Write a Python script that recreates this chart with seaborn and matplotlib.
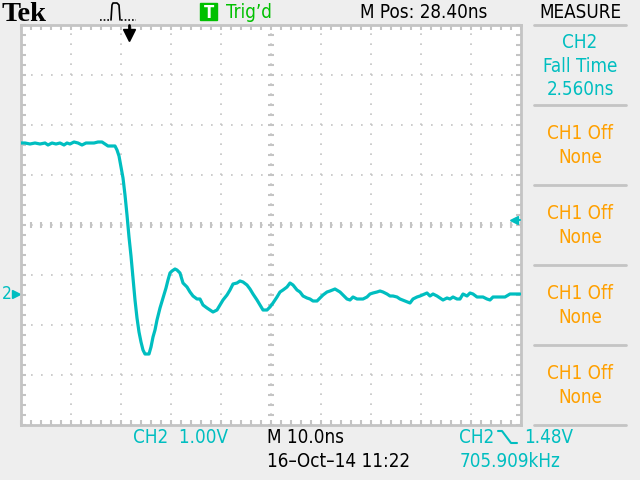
import matplotlib
matplotlib.use("Agg")
import matplotlib.pyplot as plt
import matplotlib.transforms as mtransforms
from matplotlib.lines import Line2D
from matplotlib.patches import Rectangle
import numpy as np
import pandas as pd
import seaborn as sns

# scope settings (from the screen read-out)
ns_per_div = 10.0
volts_per_div = 1.00
m_pos_ns = 28.40
ch2_centre_v = 1.38      # CH2 volts at the middle of the screen
trigger_level_v = 1.48
trigger_time_ns = 0.0

# CH2 trace
time_ns = [-21.6, -20.8, -19.8, -18.8, -17.8, -16.8, -16.2, -15.4, -14.6, -13.8,
           -13.0, -12.4, -11.8, -11.0, -10.2, -9.4, -8.6, -7.8, -7.0, -6.2,
           -5.4, -4.8, -4.2, -3.4, -2.8, -2.4, -2.0, -1.6, -1.2, -0.8,
           -0.4, 0.0, 0.4, 0.8, 1.2, 1.6, 2.0, 2.4, 2.8, 3.2,
           4.0, 4.4, 4.8, 5.2, 5.6, 6.2, 6.8, 7.4, 7.8, 8.2,
           8.6, 9.2, 9.6, 10.2, 10.8, 11.6, 12.2, 12.8, 13.6, 14.2,
           14.8, 15.6, 16.2, 16.8, 17.6, 18.2, 18.8, 19.6, 20.2, 20.8,
           21.6, 22.2, 22.8, 23.6, 24.2, 24.8, 25.6, 26.2, 26.8, 27.6,
           28.2, 28.8, 29.6, 30.2, 30.8, 31.6, 32.2, 32.8, 33.6, 34.2,
           34.8, 35.6, 36.2, 36.8, 37.6, 38.2, 38.8, 39.6, 40.2, 41.2,
           42.2, 42.8, 43.6, 44.2, 44.8, 45.6, 46.8, 47.6, 48.2, 48.8,
           49.6, 50.2, 50.8, 51.6, 52.2, 52.8, 53.6, 54.2, 55.2, 56.2,
           56.8, 57.6, 58.2, 59.6, 60.2, 60.8, 61.6, 62.2, 62.8, 63.6,
           64.2, 64.8, 65.6, 66.2, 66.8, 67.6, 68.2, 68.8, 69.6, 70.8,
           71.6, 72.2, 72.8, 74.2, 75.2, 76.2, 78.2]
ch2_volts = [3.02, 3.02, 3.00, 3.02, 3.00, 3.02,
             2.98, 3.02, 3.00, 3.02, 2.98, 3.02,
             3.00, 3.04, 3.02, 2.98, 3.02, 3.02,
             3.02, 3.04, 3.04, 3.00, 2.96, 2.96,
             2.96, 2.88, 2.76, 2.54, 2.32, 1.98,
             1.58, 1.14, 0.76, 0.32, -0.12, -0.48,
             -0.76, -0.96, -1.12, -1.20, -1.20, -1.06,
             -0.86, -0.72, -0.52, -0.28, -0.08, 0.12,
             0.28, 0.42, 0.46, 0.50, 0.48, 0.42,
             0.22, 0.14, 0.04, -0.04, -0.10, -0.10,
             -0.22, -0.28, -0.32, -0.36, -0.32, -0.22,
             -0.12, -0.02, 0.08, 0.20, 0.22, 0.26,
             0.24, 0.18, 0.10, 0.00, -0.12, -0.22,
             -0.32, -0.32, -0.26, -0.18, -0.06, 0.04,
             0.08, 0.14, 0.22, 0.18, 0.08, 0.04,
             -0.04, -0.08, -0.10, -0.14, -0.14, -0.08,
             -0.02, 0.04, 0.06, 0.10, 0.04, -0.02,
             -0.10, -0.12, -0.06, -0.10, -0.10, -0.06,
             0.00, 0.02, 0.04, 0.06, 0.04, 0.00,
             -0.04, -0.04, -0.06, -0.10, -0.14, -0.18,
             -0.10, -0.06, -0.04, 0.02, -0.04, 0.00,
             -0.04, -0.08, -0.12, -0.08, -0.10, -0.06,
             -0.10, -0.10, 0.00, -0.04, 0.02, 0.00,
             -0.06, -0.06, -0.10, -0.12, -0.06, -0.06,
             -0.06, 0.00, 0.00]

# side menu texts
measure_box = ["CH2", "Fall Time", "2.560ns"]
off_boxes = [["CH1 Off", "None"]] * 4

TEAL = "#00BEC0"
ORANGE = "#FFA000"
GREEN = "#00C000"
GRID = "#C4C4C4"
BG = "#EEEEEE"

sns.set_style("white")
plt.rcParams["font.family"] = ["DejaVu Sans"]
plt.rcParams["font.stretch"] = "condensed"
plt.rcParams["lines.scale_dashes"] = True

W, H = 640, 480
fig = plt.figure(figsize=(W / 100, H / 100), dpi=100, facecolor=BG)


def fx(x):
    return x / W


def fy(y):
    return 1 - y / H


def label(x, y, s, color="black", size=13.5, ha="left", **kw):
    fig.text(fx(x), fy(y), s, color=color, fontsize=size, ha=ha, va="baseline", **kw)


# graticule area: 10 x 8 divisions of 50 px
ax = fig.add_axes([fx(21), 1 - 425 / H, 500 / W, 400 / H])
ax.set_facecolor("white")

df = pd.DataFrame({"time_ns": time_ns, "ch2_volts": ch2_volts})
sns.lineplot(data=df, x="time_ns", y="ch2_volts", color=TEAL, linewidth=2.3,
             estimator=None, sort=False, ax=ax, zorder=5)

t0 = m_pos_ns - 5 * ns_per_div
t1 = m_pos_ns + 5 * ns_per_div
v0 = ch2_centre_v - 4 * volts_per_div
v1 = ch2_centre_v + 4 * volts_per_div
ax.set_xlim(t0, t1)
ax.set_ylim(v0, v1)
ax.set_xlabel("")
ax.set_ylabel("")

xmaj = t0 + ns_per_div * np.arange(11)
ymaj = v0 + volts_per_div * np.arange(9)
xmin = t0 + ns_per_div / 5 * np.arange(51)
ymin = v0 + volts_per_div / 5 * np.arange(41)
ax.set_xticks(xmaj)
ax.set_yticks(ymaj)
ax.set_xticks(xmin, minor=True)
ax.set_yticks(ymin, minor=True)
ax.tick_params(which="both", direction="in", length=3.5, width=1.5, color=GRID,
               top=True, right=True, bottom=True, left=True,
               labelbottom=False, labelleft=False)
ax.grid(which="major", color=GRID, linestyle=(0, (1, 5)), linewidth=1.2)
for sp in ax.spines.values():
    sp.set_color(GRID)
    sp.set_linewidth(2)

# centre cross-hair with 1/5 division marks
tc = m_pos_ns
ax.plot(xmin, np.full(len(xmin), ch2_centre_v), ls="none", marker="|",
        ms=4, mew=1.5, color=GRID, zorder=2)
ax.plot(np.full(len(ymin), tc), ymin, ls="none", marker="_",
        ms=4, mew=1.5, color=GRID, zorder=2)

# trigger position marker (top), trigger level marker (right), ground marker (left)
top = mtransforms.blended_transform_factory(ax.transData, ax.transAxes)
side = mtransforms.blended_transform_factory(ax.transAxes, ax.transData)
ax.plot([trigger_time_ns, trigger_time_ns], [1.0, 0.982], color="black", lw=2,
        transform=top, clip_on=False, zorder=6)
ax.plot([trigger_time_ns], [0.975], marker="v", ms=8, color="black",
        transform=top, clip_on=False, zorder=6)
ax.plot([0.986, 0.998], [trigger_level_v, trigger_level_v], color=TEAL, lw=1.5,
        transform=side, clip_on=False, zorder=6)
ax.plot([0.986], [trigger_level_v], marker="<", ms=6, color=TEAL,
        transform=side, clip_on=False, zorder=6)
ax.plot([-0.01], [0.0], marker=">", ms=6, color=TEAL,
        transform=side, clip_on=False)
ax.text(-0.039, 0.0, "2", color=TEAL, fontsize=12.5, ha="left", va="center",
        transform=side)

# top status line
fig.text(fx(2), fy(21), "Tek", family="Liberation Serif", weight="bold",
         stretch="normal", fontsize=20.5, color="black", va="baseline")
pulse_x = [111, 112, 113, 117, 119, 120]
pulse_y = [20, 5, 3, 3, 5, 20]
fig.add_artist(Line2D([fx(v) for v in pulse_x], [fy(v) for v in pulse_y],
                      color="black", lw=1.2, transform=fig.transFigure))
for xa, xb in [(100, 110), (121, 136)]:
    fig.add_artist(Line2D([fx(xa), fx(xb)], [fy(20), fy(20)], color="black",
                          lw=1.2, ls=(0, (1, 1.2)), transform=fig.transFigure))
fig.add_artist(Rectangle((fx(200), fy(20)), 17 / W, 17 / H, color=GREEN,
                         transform=fig.transFigure))
label(208.5, 17.5, "T", color="white", size=12, ha="center", weight="bold")
label(226, 18, "Trig\u2019d", color=GREEN)
label(360, 18, "M Pos: 28.40ns")
label(580, 18, "MEASURE", ha="center")

# side menu
for yy in [25, 105, 185, 265, 345, 425]:
    fig.add_artist(Line2D([fx(534), fx(626)], [fy(yy), fy(yy)], color=GRID,
                          lw=2, transform=fig.transFigure))
for s, yb in zip(measure_box, [48, 72, 95]):
    label(580, yb, s, color=TEAL, ha="center")
for k, box in enumerate(off_boxes):
    label(580, 139 + 80 * k, box[0], color=ORANGE, ha="center")
    label(580, 163 + 80 * k, box[1], color=ORANGE, ha="center")

# bottom read-outs
label(133, 443, "CH2  %.2fV" % volts_per_div, color=TEAL)
label(267, 443, "M %.1fns" % ns_per_div)
label(267, 467, "16\u2013Oct\u201314 11:22")
label(459, 443, "CH2", color=TEAL)
edge_x = [498, 502, 511, 517]
edge_y = [431, 431, 443, 443]
fig.add_artist(Line2D([fx(v) for v in edge_x], [fy(v) for v in edge_y],
                      color=TEAL, lw=1.5, transform=fig.transFigure))
label(524, 443, "%.2fV" % trigger_level_v, color=TEAL)
label(460, 467, "705.909kHz", color=TEAL)

fig.savefig("out.png", dpi=100, facecolor=BG)
